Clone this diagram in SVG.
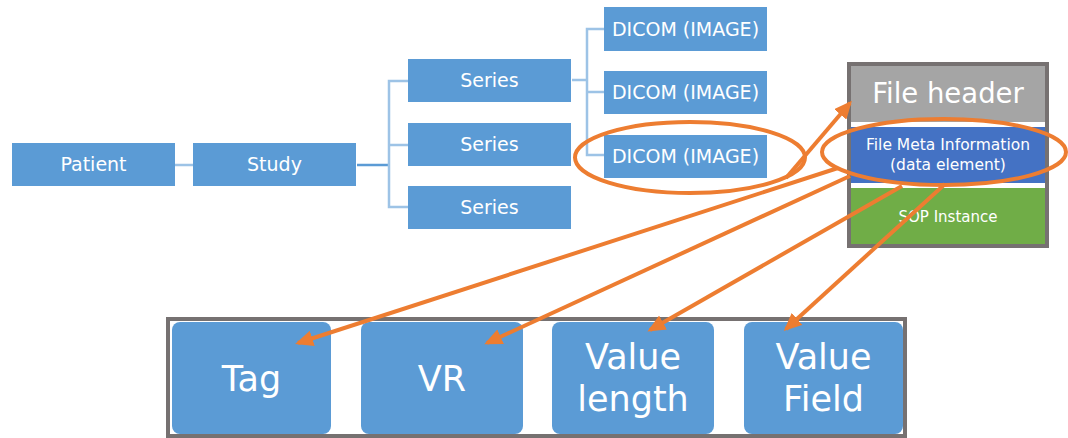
<svg xmlns="http://www.w3.org/2000/svg" width="1068" height="438" viewBox="0 0 1068 438">
<style>
.box{fill:#5b9bd5}
.lbl{font-family:"DejaVu Sans",sans-serif;font-size:19px;fill:#ffffff;text-anchor:middle}
.big{font-family:"DejaVu Sans",sans-serif;font-size:35px;fill:#ffffff;text-anchor:middle}
.tree{fill:none;stroke:#9dc3e6;stroke-width:2.5}
.tree2{fill:none;stroke:#5b9bd5;stroke-width:2.5}
.hl{fill:none;stroke:#ed7d31;stroke-width:4}
.arr{fill:none;stroke:#ed7d31;stroke-width:4;marker-end:url(#ah)}
.frame{fill:#ffffff;stroke:#767171;stroke-width:4}
</style>
<defs>
<marker id="ah" markerUnits="userSpaceOnUse" markerWidth="18" markerHeight="16" refX="15" refY="8" orient="auto">
<path d="M0,0 L18,8 L0,16 Z" fill="#ed7d31"/>
</marker>
</defs>
<rect width="1068" height="438" fill="#ffffff"/>

<g id="tree-connectors">
<path class="tree" d="M175,165 H193"/>
<path class="tree2" d="M357,165 H389"/>
<path class="tree" d="M408,81 H389 V207 H408 M389,145 H408"/>
<path class="tree" d="M572,80 H587 M604,29 H587 V155 H604 M587,92 H604"/>
</g>

<g id="patient"><rect class="box" x="12" y="143" width="163" height="43"/><text class="lbl" x="93.5" y="171">Patient</text></g>
<g id="study"><rect class="box" x="193" y="143" width="163" height="43"/><text class="lbl" x="274.5" y="171">Study</text></g>
<g id="series1"><rect class="box" x="408" y="59" width="163" height="43"/><text class="lbl" x="489.5" y="87">Series</text></g>
<g id="series2"><rect class="box" x="408" y="123" width="163" height="43"/><text class="lbl" x="489.5" y="151">Series</text></g>
<g id="series3"><rect class="box" x="408" y="186" width="163" height="43"/><text class="lbl" x="489.5" y="214">Series</text></g>
<g id="dicom1"><rect class="box" x="604" y="7" width="163" height="44"/><text class="lbl" x="685.5" y="36">DICOM (IMAGE)</text></g>
<g id="dicom2"><rect class="box" x="604" y="71" width="163" height="43"/><text class="lbl" x="685.5" y="99">DICOM (IMAGE)</text></g>
<g id="dicom3"><rect class="box" x="604" y="135" width="163" height="43"/><text class="lbl" x="685.5" y="163">DICOM (IMAGE)</text></g>

<g id="file">
<rect class="frame" x="849" y="64" width="198" height="182"/>
<rect x="851" y="66" width="194" height="56" fill="#a5a5a5"/>
<text x="948" y="103" font-family="DejaVu Sans, sans-serif" font-size="27.5" fill="#ffffff" text-anchor="middle">File header</text>
<rect x="851" y="127" width="194" height="56" fill="#4472c4"/>
<text x="948" y="150" font-family="DejaVu Sans, sans-serif" font-size="15.5" fill="#ffffff" text-anchor="middle">File Meta Information</text>
<text x="948" y="170" font-family="DejaVu Sans, sans-serif" font-size="15.5" fill="#ffffff" text-anchor="middle">(data element)</text>
<rect x="851" y="188" width="194" height="56" fill="#70ad47"/>
<text x="948" y="222" font-family="DejaVu Sans, sans-serif" font-size="15" fill="#ffffff" text-anchor="middle">SOP Instance</text>
</g>

<g id="data-element">
<rect class="frame" x="168" y="319" width="737" height="117"/>
<g id="tag"><rect class="box" x="172" y="322" width="159" height="112" rx="8"/><text class="big" x="251.5" y="391">Tag</text></g>
<g id="vr"><rect class="box" x="361" y="322" width="162" height="112" rx="8"/><text class="big" x="442" y="391">VR</text></g>
<g id="value-length"><rect class="box" x="552" y="322" width="162" height="112" rx="8"/><text class="big" x="633" y="369">Value</text><text class="big" x="633" y="411">length</text></g>
<g id="value-field"><rect class="box" x="744" y="322" width="159" height="112" rx="8"/><text class="big" x="823.5" y="369">Value</text><text class="big" x="823.5" y="411">Field</text></g>
</g>

<g id="highlights">
<ellipse class="hl" cx="690" cy="157.5" rx="115" ry="35.5"/>
<ellipse class="hl" cx="944" cy="152" rx="122" ry="33"/>
</g>

<g id="connectors">
<path class="arr" d="M786,178 L850,103"/>
<path class="arr" d="M838,168 L298,343"/>
<path class="arr" d="M850,176 L487,343"/>
<path class="arr" d="M902,186 L650,330"/>
<path class="arr" d="M945,184 L786,329"/>
</g>
</svg>
